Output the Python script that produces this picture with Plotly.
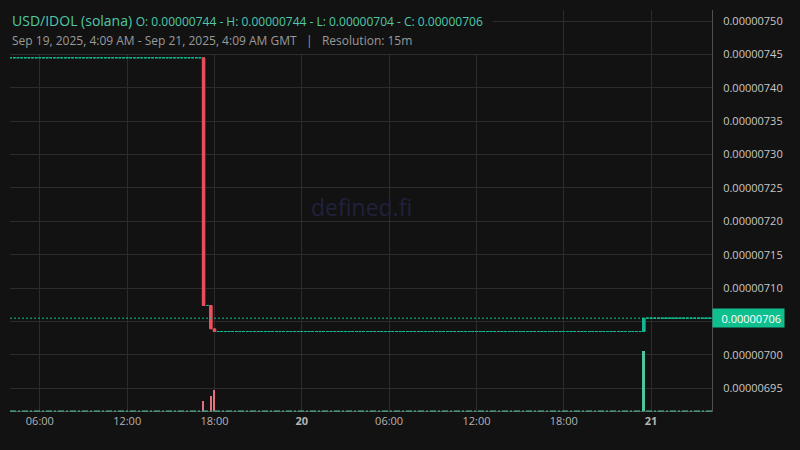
import pandas as pd
import plotly.graph_objects as go

# ---- data (15m candles, run-length segments) ----
seg_start = ["2025-09-19 04:00", "2025-09-19 17:15", "2025-09-19 17:30", "2025-09-19 17:45",
             "2025-09-19 18:00", "2025-09-19 18:15", "2025-09-20 23:30", "2025-09-20 23:45"]
seg_count = [53, 1, 1, 1, 1, 117, 1, 18]
seg_open = [7.445e-6, 7.445e-6, 7.074e-6, 7.074e-6, 7.039e-6, 7.035e-6, 7.035e-6, 7.055e-6]
seg_close = [7.445e-6, 7.074e-6, 7.074e-6, 7.039e-6, 7.035e-6, 7.035e-6, 7.055e-6, 7.055e-6]
seg_volume = [0, 16, 0, 25, 35, 0, 100, 0]

x_range = ["2025-09-19 03:57", "2025-09-21 04:11"]
y_ticks = [6.95e-6, 7.00e-6, 7.05e-6, 7.10e-6, 7.15e-6, 7.20e-6, 7.25e-6,
           7.30e-6, 7.35e-6, 7.40e-6, 7.45e-6, 7.50e-6]
y_ticktext = ["0.00000695", "0.00000700", "", "0.00000710", "0.00000715", "0.00000720",
              "0.00000725", "0.00000730", "0.00000735", "0.00000740", "0.00000745", "0.00000750"]
x_tickvals = ["2025-09-19 06:00", "2025-09-19 12:00", "2025-09-19 18:00", "2025-09-20 00:00",
              "2025-09-20 06:00", "2025-09-20 12:00", "2025-09-20 18:00", "2025-09-21 00:00"]
x_ticktext = ["06:00", "12:00", "18:00", "<b>20</b>", "06:00", "12:00", "18:00", "<b>21</b>"]
last_price = 7.055e-6
last_price_text = "0.00000706"
title_main = "USD/IDOL (solana)"
title_ohlc = "O: 0.00000744 - H: 0.00000744 - L: 0.00000704 - C: 0.00000706"
subtitle = "Sep 19, 2025, 4:09 AM - Sep 21, 2025, 4:09 AM GMT"
resolution = "Resolution: 15m"

# ---- expand segments into candles ----
rows = []
for s, n, o, c, v in zip(seg_start, seg_count, seg_open, seg_close, seg_volume):
    t0 = pd.Timestamp(s)
    for k in range(n):
        rows.append((t0 + pd.Timedelta(minutes=15 * k), o, c, v))
df = pd.DataFrame(rows, columns=["t", "o", "c", "v"])
df["h"] = df[["o", "c"]].max(axis=1)
df["l"] = df[["o", "c"]].min(axis=1)
flat = df[df.o == df.c]
moving = df[df.o != df.c]

UP = "#14b892"
DOWN = "#f0505e"
VUP = "#4fc4a0"
VDOWN = "#e46f7e"
BG = "#121212"
GRID = "#2c2c2c"
AXIS = "#505050"
FONT = "Open Sans"

fig = go.Figure()

vol = df[df.v > 0]
fig.add_trace(go.Bar(
    x=vol.t, y=vol.v, yaxis="y2", width=420000,
    marker=dict(color=[VUP if c > o else VDOWN for o, c in zip(vol.o, vol.c)], line_width=0),
    hoverinfo="skip", showlegend=False))

fig.add_trace(go.Candlestick(
    x=flat.t, open=flat.o, high=flat.h, low=flat.l, close=flat.c,
    increasing=dict(line=dict(color=UP, width=1), fillcolor=UP),
    decreasing=dict(line=dict(color=UP, width=1), fillcolor=UP),
    showlegend=False))
fig.add_trace(go.Candlestick(
    x=moving.t, open=moving.o, high=moving.h, low=moving.l, close=moving.c,
    increasing=dict(line=dict(color=UP, width=1), fillcolor=UP),
    decreasing=dict(line=dict(color=DOWN, width=1), fillcolor=DOWN),
    showlegend=False))

fig.update_layout(
    width=800, height=450,
    margin=dict(l=10, r=88, t=10, b=39),
    paper_bgcolor=BG, plot_bgcolor=BG,
    boxgap=0.3, boxgroupgap=0,
    font=dict(family=FONT, color="#c8c8c8", size=11),
    xaxis=dict(
        type="date", range=x_range, rangeslider=dict(visible=False),
        tickvals=x_tickvals, ticktext=x_ticktext,
        showgrid=True, gridcolor=GRID, gridwidth=1,
        showline=True, linecolor=AXIS, linewidth=1,
        ticks="", tickfont=dict(family=FONT, size=11, color="#b4b4b4"),
        zeroline=False, fixedrange=True),
    yaxis=dict(
        side="right", range=[6.916e-6, 7.5165e-6],
        tickvals=y_ticks, ticktext=y_ticktext,
        showgrid=True, gridcolor=GRID, gridwidth=1,
        showline=True, linecolor=AXIS, linewidth=1,
        ticks="", ticklabelstandoff=8,
        tickfont=dict(family=FONT, size=11, color="#c8c8c8"),
        zeroline=False),
    yaxis2=dict(overlaying="y", range=[0, 672], visible=False),
    bargap=0,
)

shapes = [
    # zero-volume baseline
    dict(type="line", xref="paper", yref="paper", x0=0, x1=1, y0=0, y1=0,
         line=dict(color=VUP, width=1, dash="6px,2px,2px,2px"), layer="above"),
    # last price line
    dict(type="line", xref="paper", yref="y", x0=0, x1=1, y0=last_price, y1=last_price,
         line=dict(color="#10c08f", width=1, dash="2px,2px"), layer="above"),
    # header backdrop
    dict(type="rect", xref="paper", yref="paper", x0=0, x1=0.687, y0=0.89, y1=1,
         fillcolor=BG, line=dict(width=0), layer="above"),
]
fig.update_layout(shapes=shapes)

annotations = [
    dict(xref="paper", yref="paper", x=0.5, y=0.508, text="defined.fi", showarrow=False,
         font=dict(family=FONT, size=23, color="#20213d"), xanchor="center", yanchor="middle"),
    dict(xref="paper", yref="y", x=1, y=last_price, text=last_price_text, showarrow=False,
         xanchor="left", yanchor="middle", align="right", width=65, height=12, borderpad=3,
         bgcolor="#0fbf8e", font=dict(family=FONT, size=11, color="#ffffff")),
    dict(xref="paper", yref="paper", x=0, y=0.975, xanchor="left", yanchor="middle",
         showarrow=False, align="left",
         text=title_main + " <span style='font-size:12px'>" + title_ohlc + "</span>",
         font=dict(family=FONT, size=14, color="#4fc9a9")),
    dict(xref="paper", yref="paper", x=0, y=0.9227, xanchor="left", yanchor="middle",
         showarrow=False, align="left",
         text=subtitle + "&nbsp;&nbsp;&nbsp;|&nbsp;&nbsp;&nbsp;" + resolution,
         font=dict(family=FONT, size=12, color="#9a9a9a")),
]
fig.update_layout(annotations=annotations)

fig.write_html(
    "out.html",
    config={"displayModeBar": False},
    post_script="document.body.style.margin='0';document.body.style.background='#121212';")
